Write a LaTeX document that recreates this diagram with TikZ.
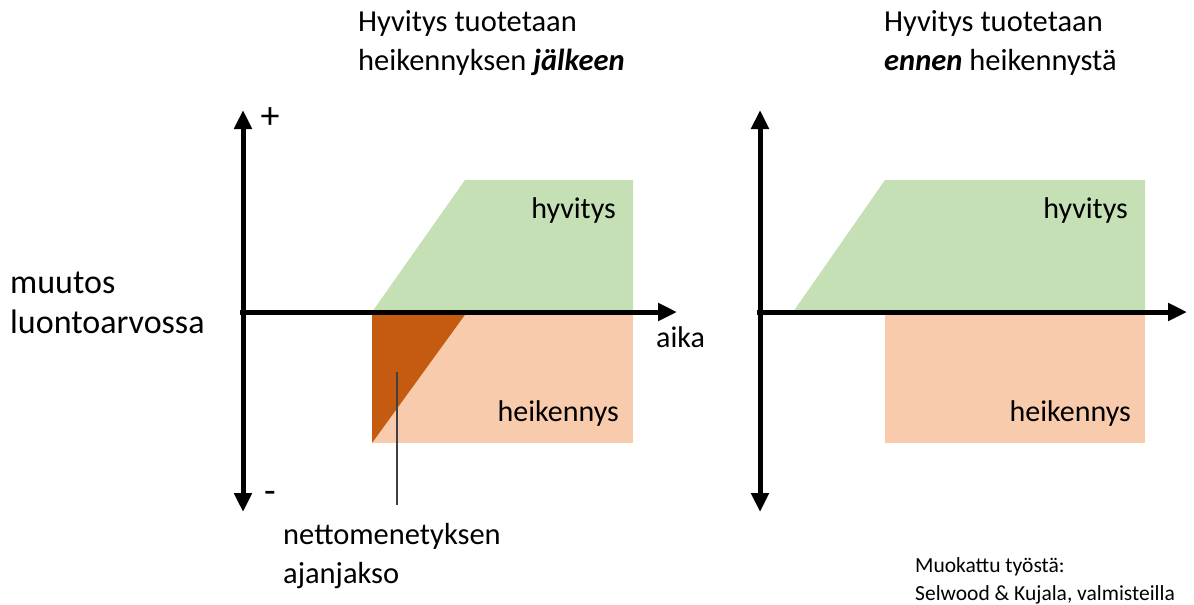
\documentclass[tikz,border=0pt]{standalone}
\usepackage{fontspec}
\setmainfont{Carlito}
\usetikzlibrary{arrows.meta,positioning}
\definecolor{gain}{HTML}{C5E0B4}
\definecolor{loss}{HTML}{F8CBAD}
\definecolor{netloss}{HTML}{C55A11}
\definecolor{pointer}{HTML}{404040}
\tikzset{axis/.style={-{Triangle[length=19pt,width=17pt]}, line width=5pt}, vaxis/.style={{Triangle[length=19pt,width=17pt]}-{Triangle[length=19pt,width=17pt]}, line width=5pt}, ttl/.style={font=\fontsize{30.5}{39}\selectfont, anchor=north west, align=left, inner sep=0pt}, lab/.style={font=\fontsize{30}{38}\selectfont, inner sep=0pt}, sgn/.style={font=\fontsize{38}{40}\selectfont, inner sep=0pt}, big/.style={font=\fontsize{34}{40}\selectfont, anchor=north west, align=left, inner sep=0pt}, sml/.style={font=\fontsize{21.5}{28}\selectfont, anchor=north west, align=left, inner sep=0pt}}

\begin{document}
\begin{tikzpicture}[x=1pt, y=-1pt]
\useasboundingbox (0,0) rectangle (1194,605);
% vasen paneeli
\fill[gain] (372,312)--(465,180)--(633,180)--(633,312)--cycle;
\fill[loss] (372,312) rectangle (633,443);
\fill[netloss] (372,312)--(467,312)--(372,443)--cycle;
\coordinate (tipL) at (397,372);
\draw[vaxis] (243,110)--(243,512); \draw[axis] (240,312)--(677,312);
\node[sgn] (plus) at (270,118) {+}; \node[sgn] (minus) at (270,497) {-};
\node[lab, anchor=west] (aikaL) at (656,337) {aika};
\node[lab, anchor=east] (hyvL) at (616,210) {hyvitys}; \node[lab, anchor=east] (heiL) at (619,413) {heikennys};
\node[ttl] (titleL) at (358,10) {Hyvitys tuotetaan\\heikennyksen \textbf{\textit{jälkeen}}};
\node[big] (yaxis) at (10,272) {muutos\\luontoarvossa};
\node[ttl] (netto) at (283,523) {nettomenetyksen\\ajanjakso};
\coordinate (tailL) at ([yshift=18pt]netto.north -| tipL);
\draw[pointer, line width=1.3pt] (tipL)--(tailL);
% oikea paneeli
\fill[gain] (793,312)--(885,180)--(1145,180)--(1145,312)--cycle;
\fill[loss] (885,312) rectangle (1145,443);
\draw[vaxis] (760,110)--(760,512); \draw[axis] (757,312)--(1187,312);
\node[lab, anchor=east] (hyvR) at (1128,210) {hyvitys}; \node[lab, anchor=east] (heiR) at (1131,413) {heikennys};
\node[ttl] (titleR) at (884,10) {Hyvitys tuotetaan\\\textbf{\textit{ennen}} heikennystä};
\node[sml] (source) at (915,557) {Muokattu työstä:\\Selwood \& Kujala, valmisteilla};
\end{tikzpicture}
\end{document}
